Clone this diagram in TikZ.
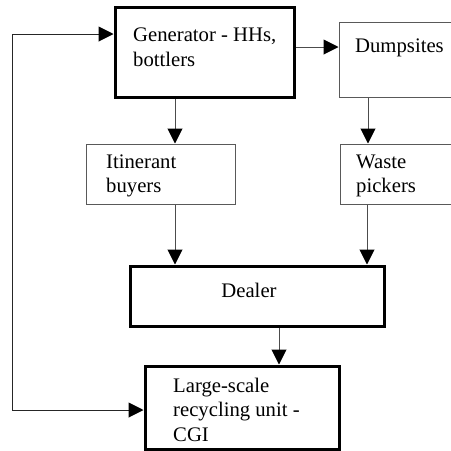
\documentclass[tikz,border=0pt]{standalone}
\usepackage{fontspec}
\setmainfont{Liberation Serif}
\usetikzlibrary{arrows.meta}
\begin{document}
\begin{tikzpicture}[x=1pt,y=-1pt,
  thinbox/.style={draw=black!65, line width=1pt, rectangle, inner sep=0pt},
  thickbox/.style={draw=black, line width=3pt, rectangle, inner sep=0pt},
  flow/.style={draw=black!70, line width=1pt, -{Triangle[length=15pt,width=15pt,fill=black,color=black]}},
  flowboth/.style={draw=black!85, line width=1pt, {Triangle[length=15pt,width=15pt,fill=black,color=black]}-{Triangle[length=15pt,width=15pt,fill=black,color=black]}},
  lbl/.style={anchor=base west, inner sep=0pt, align=left, font=\fontsize{20.7}{24.5}\selectfont},
  lblc/.style={anchor=base, inner sep=0pt, font=\fontsize{20.7}{24.5}\selectfont}
]
\clip (0,0) rectangle (451,451);
\fill[white] (0,0) rectangle (451,451);

% boxes
\node[thickbox, minimum width=179pt, minimum height=90pt] (gen) at (204.5,52) {};
\node[thinbox, minimum width=141pt, minimum height=75pt] (dump) at (409.5,59.5) {};
\node[thinbox, minimum width=149pt, minimum height=60pt] (itin) at (160.5,174) {};
\node[thinbox, minimum width=140pt, minimum height=60pt] (waste) at (410,174) {};
\node[thickbox, minimum width=254pt, minimum height=60pt] (dealer) at (257,296) {};
\node[thickbox, minimum width=194pt, minimum height=83pt] (cgi) at (242,407.5) {};

% labels (anchored at the baseline of their last line)
\node[lbl] (tgen) at (133,66) {Generator - HHs,\\bottlers};
\node[lbl] (tdump) at (355,52) {Dumpsites};
\node[lbl] (titin) at (106,192.5) {Itinerant\\buyers};
\node[lbl] (twaste) at (356,192.5) {Waste\\pickers};
\node[lblc] (tdealer) at (249,297) {Dealer};
\node[lbl] (tcgi) at (173,441) {Large-scale\\recycling unit -\\CGI};

% flows
\draw[flow] (gen.east |- 0,47) -- (dump.west |- 0,47);
\draw[flow] (gen.south -| 175,0) -- (itin.north -| 175,0);
\draw[flow] (dump.south -| 368,0) -- (waste.north -| 368,0);
\draw[flow] (itin.south -| 175,0) -- (dealer.north -| 175,0);
\draw[flow] (waste.south -| 367,0) -- (dealer.north -| 367,0);
\draw[flow] (dealer.south -| 279,0) -- (cgi.north -| 279,0);
\coordinate (ltop) at (12,34);
\coordinate (lbot) at (12,410);
\draw[flowboth] (gen.west |- ltop) -- (ltop) -- (lbot) -- (cgi.west |- lbot);
\end{tikzpicture}
\end{document}
